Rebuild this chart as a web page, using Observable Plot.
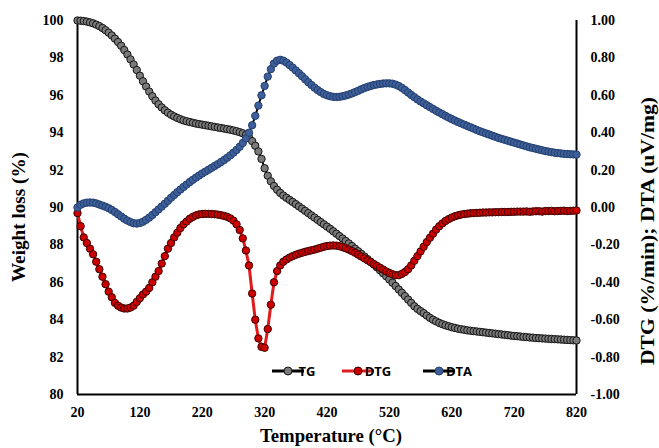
<!DOCTYPE html>
<html><head><meta charset="utf-8">
<script src="https://cdn.jsdelivr.net/npm/d3@7"></script>
<script src="https://cdn.jsdelivr.net/npm/@observablehq/plot@0.6"></script>
<style>
html,body{margin:0;padding:0;background:#fff;}
#chart{position:relative;width:659px;height:448px;}
</style></head><body><div id="chart"></div>
<script>
// Temperature grid (°C), one reading every 5 °C
const temps = d3.range(20, 821, 5);

// TG, weight loss (%) – left axis
const tg = [
 100.00, 99.99, 99.97, 99.94, 99.90, 99.85, 99.78, 99.70, 99.60, 99.48,
 99.35, 99.20, 99.03, 98.85, 98.65, 98.42, 98.18, 97.92, 97.65, 97.35,
 97.05, 96.75, 96.47, 96.20, 95.95, 95.72, 95.52, 95.35, 95.20, 95.07,
 94.96, 94.87, 94.79, 94.72, 94.66, 94.61, 94.57, 94.53, 94.49, 94.46,
 94.43, 94.40, 94.37, 94.34, 94.31, 94.28, 94.25, 94.22, 94.19, 94.16,
 94.12, 94.08, 94.03, 93.97, 93.88, 93.74, 93.55, 93.30, 93.00, 92.60,
 92.10, 91.70, 91.40, 91.15, 90.95, 90.78, 90.64, 90.52, 90.41, 90.30,
 90.18, 90.06, 89.94, 89.82, 89.70, 89.58, 89.46, 89.34, 89.22, 89.10,
 88.98, 88.86, 88.73, 88.60, 88.47, 88.34, 88.21, 88.08, 87.94, 87.80,
 87.66, 87.52, 87.38, 87.24, 87.10, 86.95, 86.80, 86.64, 86.48, 86.32,
 86.15, 85.98, 85.80, 85.62, 85.44, 85.26, 85.08, 84.90, 84.72, 84.58,
 84.46, 84.35, 84.22, 84.10, 84.00, 83.91, 83.83, 83.76, 83.70, 83.65,
 83.60, 83.56, 83.52, 83.49, 83.46, 83.43, 83.41, 83.39, 83.37, 83.35,
 83.33, 83.31, 83.29, 83.27, 83.25, 83.23, 83.21, 83.19, 83.17, 83.15,
 83.13, 83.12, 83.10, 83.08, 83.07, 83.05, 83.04, 83.02, 83.01, 83.00,
 82.99, 82.98, 82.97, 82.96, 82.95, 82.94, 82.93, 82.92, 82.91, 82.90,
 82.89
];

// DTG (%/min) – right axis
const dtg = [
 -0.03, -0.10, -0.16, -0.19, -0.22, -0.25, -0.29, -0.33, -0.37, -0.41,
 -0.45, -0.48, -0.51, -0.525, -0.535, -0.54, -0.54, -0.535, -0.525, -0.505,
 -0.485, -0.465, -0.45, -0.43, -0.40, -0.37, -0.34, -0.30, -0.26, -0.22,
 -0.19, -0.16, -0.135, -0.11, -0.09, -0.075, -0.06, -0.05, -0.042, -0.037,
 -0.035, -0.034, -0.034, -0.035, -0.036, -0.038, -0.041, -0.045, -0.05, -0.058,
 -0.07, -0.09, -0.12, -0.165, -0.23, -0.31, -0.46, -0.60, -0.70, -0.745,
 -0.75, -0.65, -0.52, -0.40, -0.34, -0.31, -0.29, -0.278, -0.268, -0.26,
 -0.253, -0.247, -0.242, -0.237, -0.233, -0.229, -0.225, -0.22, -0.215, -0.21,
 -0.206, -0.204, -0.203, -0.204, -0.207, -0.212, -0.218, -0.225, -0.233, -0.242,
 -0.252, -0.262, -0.272, -0.282, -0.292, -0.302, -0.312, -0.322, -0.332, -0.342,
 -0.35, -0.357, -0.362, -0.362, -0.355, -0.345, -0.33, -0.31, -0.285, -0.26,
 -0.235, -0.21, -0.185, -0.162, -0.14, -0.118, -0.10, -0.085, -0.072, -0.062,
 -0.054, -0.047, -0.042, -0.038, -0.035, -0.033, -0.031, -0.03, -0.029, -0.028,
 -0.027, -0.027, -0.026, -0.026, -0.025, -0.025, -0.024, -0.024, -0.024, -0.023,
 -0.023, -0.022, -0.022, -0.022, -0.021, -0.023, -0.021, -0.02, -0.02, -0.022,
 -0.019, -0.019, -0.018, -0.02, -0.019, -0.018, -0.017, -0.019, -0.018, -0.017,
 -0.016
];

// DTA (uV/mg) – right axis
const dta = [
 0.00, 0.015, 0.022, 0.026, 0.027, 0.026, 0.022, 0.016, 0.01, 0.004,
 -0.004, -0.013, -0.024, -0.036, -0.048, -0.06, -0.07, -0.078, -0.084, -0.086,
 -0.083, -0.076, -0.066, -0.054, -0.04, -0.025, -0.01, 0.005, 0.02, 0.036,
 0.052, 0.067, 0.082, 0.096, 0.11, 0.123, 0.136, 0.148, 0.16, 0.171,
 0.182, 0.192, 0.202, 0.212, 0.222, 0.232, 0.243, 0.254, 0.266, 0.279,
 0.293, 0.308, 0.325, 0.345, 0.37, 0.40, 0.44, 0.49, 0.545, 0.60,
 0.65, 0.70, 0.74, 0.77, 0.785, 0.79, 0.785, 0.775, 0.762, 0.748,
 0.733, 0.718, 0.702, 0.686, 0.67, 0.655, 0.641, 0.628, 0.617, 0.607,
 0.60, 0.595, 0.592, 0.591, 0.592, 0.595, 0.599, 0.604, 0.61, 0.617,
 0.624, 0.632, 0.639, 0.645, 0.65, 0.655, 0.658, 0.661, 0.663, 0.664,
 0.664, 0.662, 0.657, 0.65, 0.64, 0.628, 0.615, 0.602, 0.59, 0.578,
 0.567, 0.557, 0.547, 0.537, 0.527, 0.517, 0.508, 0.499, 0.49, 0.481,
 0.473, 0.465, 0.457, 0.45, 0.443, 0.436, 0.429, 0.422, 0.415, 0.408,
 0.402, 0.396, 0.39, 0.384, 0.378, 0.372, 0.367, 0.362, 0.357, 0.352,
 0.347, 0.342, 0.337, 0.332, 0.327, 0.322, 0.318, 0.314, 0.31, 0.306,
 0.302, 0.299, 0.296, 0.293, 0.291, 0.289, 0.287, 0.286, 0.285, 0.284,
 0.283
];

// Tick labels
const xTicks = [20, 120, 220, 320, 420, 520, 620, 720, 820];
const leftTicks = [80, 82, 84, 86, 88, 90, 92, 94, 96, 98, 100];
const rightTicks = [-1.00, -0.80, -0.60, -0.40, -0.20, 0.00, 0.20, 0.40, 0.60, 0.80, 1.00];

const seriesNames = ["TG", "DTG", "DTA"];

// secondary axis [-1, 1] mapped onto primary axis [80, 100]
const toLeft = v => 90 + v * 10;
const fromLeft = w => (w - 90) / 10;

const rows = temps.map((t, i) => ({t, tg: tg[i], dtg: dtg[i], dta: dta[i]}));

const serif = "'Liberation Serif','Times New Roman',serif";
const axisFont = {fontFamily: serif, fontSize: 14, fontWeight: "bold"};

const plot = Plot.plot({
  width: 659, height: 448,
  marginLeft: 77, marginRight: 83, marginTop: 20, marginBottom: 54,
  x: {domain: [20, 820]},
  y: {domain: [80, 100]},
  style: {fontFamily: serif, fontSize: "14px", fontWeight: "bold", color: "#000", background: "#fff", overflow: "visible"},
  marks: [
    Plot.axisX({ticks: xTicks, tickSize: 0, tickPadding: 13, label: null, tickFormat: d => String(d), ...axisFont}),
    Plot.axisY({ticks: leftTicks, tickSize: 0, tickPadding: 14, label: null, tickFormat: d => String(d), ...axisFont}),
    Plot.axisY({anchor: "right", ticks: rightTicks.map(toLeft), tickSize: 0, tickPadding: 14, label: null,
      tickFormat: d => fromLeft(d).toFixed(2), textAnchor: "start", ...axisFont}),
    Plot.ruleX([20, 820], {stroke: "#000", strokeWidth: 2}),
    Plot.ruleY([80], {stroke: "#000", strokeWidth: 2}),
    // TG
    Plot.line(rows, {x: "t", y: "tg", stroke: "#000", strokeWidth: 2}),
    Plot.dot(rows, {x: "t", y: "tg", r: 3.7, fill: "#7a7a7a", stroke: "#141414", strokeWidth: 1}),
    // DTG
    Plot.line(rows, {x: "t", y: d => toLeft(d.dtg), stroke: "#e01b1b", strokeWidth: 3}),
    Plot.dot(rows, {x: "t", y: d => toLeft(d.dtg), r: 3.7, fill: "#cc0000", stroke: "#3d0000", strokeWidth: 1}),
    // DTA
    Plot.line(rows, {x: "t", y: d => toLeft(d.dta), stroke: "#000", strokeWidth: 2}),
    Plot.dot(rows, {x: "t", y: d => toLeft(d.dta), r: 3.7, fill: "#3f5f9a", stroke: "#22406f", strokeWidth: 1})
  ]
});

const svg = d3.select(plot);

// Axis titles
svg.append("text")
  .attr("transform", "translate(25,217) rotate(-90)")
  .attr("text-anchor", "middle")
  .attr("font-family", serif).attr("font-weight", "bold").attr("font-size", 19)
  .attr("textLength", 130).attr("lengthAdjust", "spacingAndGlyphs")
  .attr("fill", "#000")
  .text("Weight loss (%)");

svg.append("text")
  .attr("transform", "translate(654,231) rotate(-90)")
  .attr("text-anchor", "middle")
  .attr("font-family", serif).attr("font-weight", "bold").attr("font-size", 19)
  .attr("textLength", 268).attr("lengthAdjust", "spacingAndGlyphs")
  .attr("fill", "#000")
  .text("DTG (%/min); DTA (uV/mg)");

svg.append("text")
  .attr("x", 331).attr("y", 441.5)
  .attr("text-anchor", "middle")
  .attr("font-family", serif).attr("font-weight", "bold").attr("font-size", 19)
  .attr("textLength", 142).attr("lengthAdjust", "spacingAndGlyphs")
  .attr("fill", "#000")
  .text("Temperature (°C)");

// Legend
const legendItems = [
  {name: seriesNames[0], x0: 272, lineColor: "#000", fill: "#7a7a7a", stroke: "#141414", tx: 307},
  {name: seriesNames[1], x0: 342, lineColor: "#e01b1b", fill: "#cc0000", stroke: "#3d0000", tx: 378},
  {name: seriesNames[2], x0: 423, lineColor: "#000", fill: "#3f5f9a", stroke: "#22406f", tx: 459}
];
const lg = svg.append("g");
const ly = 371;
legendItems.forEach(it => {
  lg.append("line").attr("x1", it.x0).attr("x2", it.x0 + 32).attr("y1", ly).attr("y2", ly)
    .attr("stroke", it.lineColor).attr("stroke-width", 3);
  lg.append("circle").attr("cx", it.x0 + 16).attr("cy", ly).attr("r", 4)
    .attr("fill", it.fill).attr("stroke", it.stroke).attr("stroke-width", 1);
  lg.append("text").attr("x", it.tx).attr("y", ly + 5)
    .attr("font-family", "'Open Sans',sans-serif").attr("font-weight", "bold").attr("font-size", 13)
    .attr("fill", "#000").text(it.name);
});

document.getElementById("chart").appendChild(plot);
</script>
</body></html>
